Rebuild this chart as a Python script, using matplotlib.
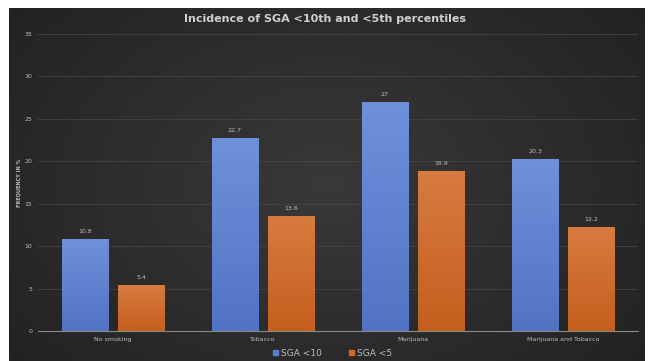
import numpy as np
import matplotlib.pyplot as plt
from matplotlib.patches import Patch
from matplotlib.colors import LinearSegmentedColormap

# Data
categories = ['No smoking', 'Tobacco', 'Marijuana', 'Marijuana and Tobacco']
sga10 = [10.8, 22.7, 27, 20.3]
sga5 = [5.4, 13.6, 18.9, 12.2]
yticks = [0, 5, 10, 15, 20, 25, 30, 35]

blue = '#5b7fcf'
orange = '#d2692b'
txt = '#bdbdbd'

fig = plt.figure(figsize=(6.5, 3.61), dpi=100)
fig.patch.set_facecolor('white')

# dark panel with radial gradient
bg = fig.add_axes([9 / 650, 0, 636 / 650, 1 - 8 / 361])
yy, xx = np.mgrid[-1:1:200j, -1:1:300j]
r = np.sqrt(xx ** 2 + (yy * 0.8) ** 2)
bg.imshow(r, cmap=LinearSegmentedColormap.from_list('g', ['#393939', '#222222']),
          aspect='auto', extent=[0, 1, 0, 1], vmin=0, vmax=1.3)
bg.set_axis_off()

ax = fig.add_axes([38 / 650, 1 - 331 / 361, 600 / 650, 297 / 361])
ax.set_facecolor('none')

x = np.arange(len(categories))
w = 0.307
off = 0.187
b1 = ax.bar(x - off, sga10, w, color=blue, edgecolor='#3f5a99', linewidth=0.5, label='SGA <10', zorder=3)
b2 = ax.bar(x + off, sga5, w, color=orange, edgecolor='#8e4416', linewidth=0.5, label='SGA <5', zorder=3)

# vertical gradient fill on bars, lighter at top
grad = np.linspace(0, 1, 100).reshape(-1, 1)
cm_b = LinearSegmentedColormap.from_list('b', ['#5273c4', '#6f91da'])
cm_o = LinearSegmentedColormap.from_list('o', ['#c45f1e', '#d87b40'])
for bars, cm in ((b1, cm_b), (b2, cm_o)):
    for bar in bars:
        x0, h = bar.get_x(), bar.get_height()
        im = ax.imshow(grad, cmap=cm, origin='lower', aspect='auto',
                       extent=[x0, x0 + bar.get_width(), 0, h], zorder=3.5)
        im.set_clip_path(bar)

for bars, vals in ((b1, sga10), (b2, sga5)):
    for bar, v in zip(bars, vals):
        ax.text(bar.get_x() + bar.get_width() / 2, v + 0.6, f'{v:g}', ha='center', va='bottom',
                fontsize=4.5, color=txt)

ax.set_xlim(-0.5, 3.5)
ax.set_ylim(0, 35)
ax.set_yticks(yticks)
ax.set_xticks(x)
ax.set_xticklabels(categories, fontsize=4.5, color=txt)
ax.tick_params(axis='y', labelsize=4.5, colors=txt, length=0, pad=4)
ax.tick_params(axis='x', length=0, pad=4)
ax.yaxis.grid(True, color='#474747', linewidth=0.5, zorder=0)
for s in ['top', 'right', 'left']:
    ax.spines[s].set_visible(False)
ax.spines['bottom'].set_color('#8a8a8a')
ax.spines['bottom'].set_linewidth(0.8)

ax.set_ylabel('FREQUENCY IN %', fontsize=3.6, fontweight='bold', color=txt)
ax.yaxis.set_label_coords(-0.028, 0.5)

fig.text(0.5, 1 - 19 / 361, 'Incidence of SGA <10th and <5th percentiles', ha='center', va='center',
         fontsize=8, fontweight='bold', color='#d0d0d0')

handles = [Patch(color=blue), Patch(color=orange)]
fig.legend(handles, ['SGA <10', 'SGA <5'], loc='center', bbox_to_anchor=(0.512, 1 - 353 / 361),
           ncol=2, frameon=False, fontsize=6.5, labelcolor=txt, handlelength=0.5, handleheight=0.5,
           handletextpad=0.4, columnspacing=3.0)

fig.savefig('out.png', dpi=100)
